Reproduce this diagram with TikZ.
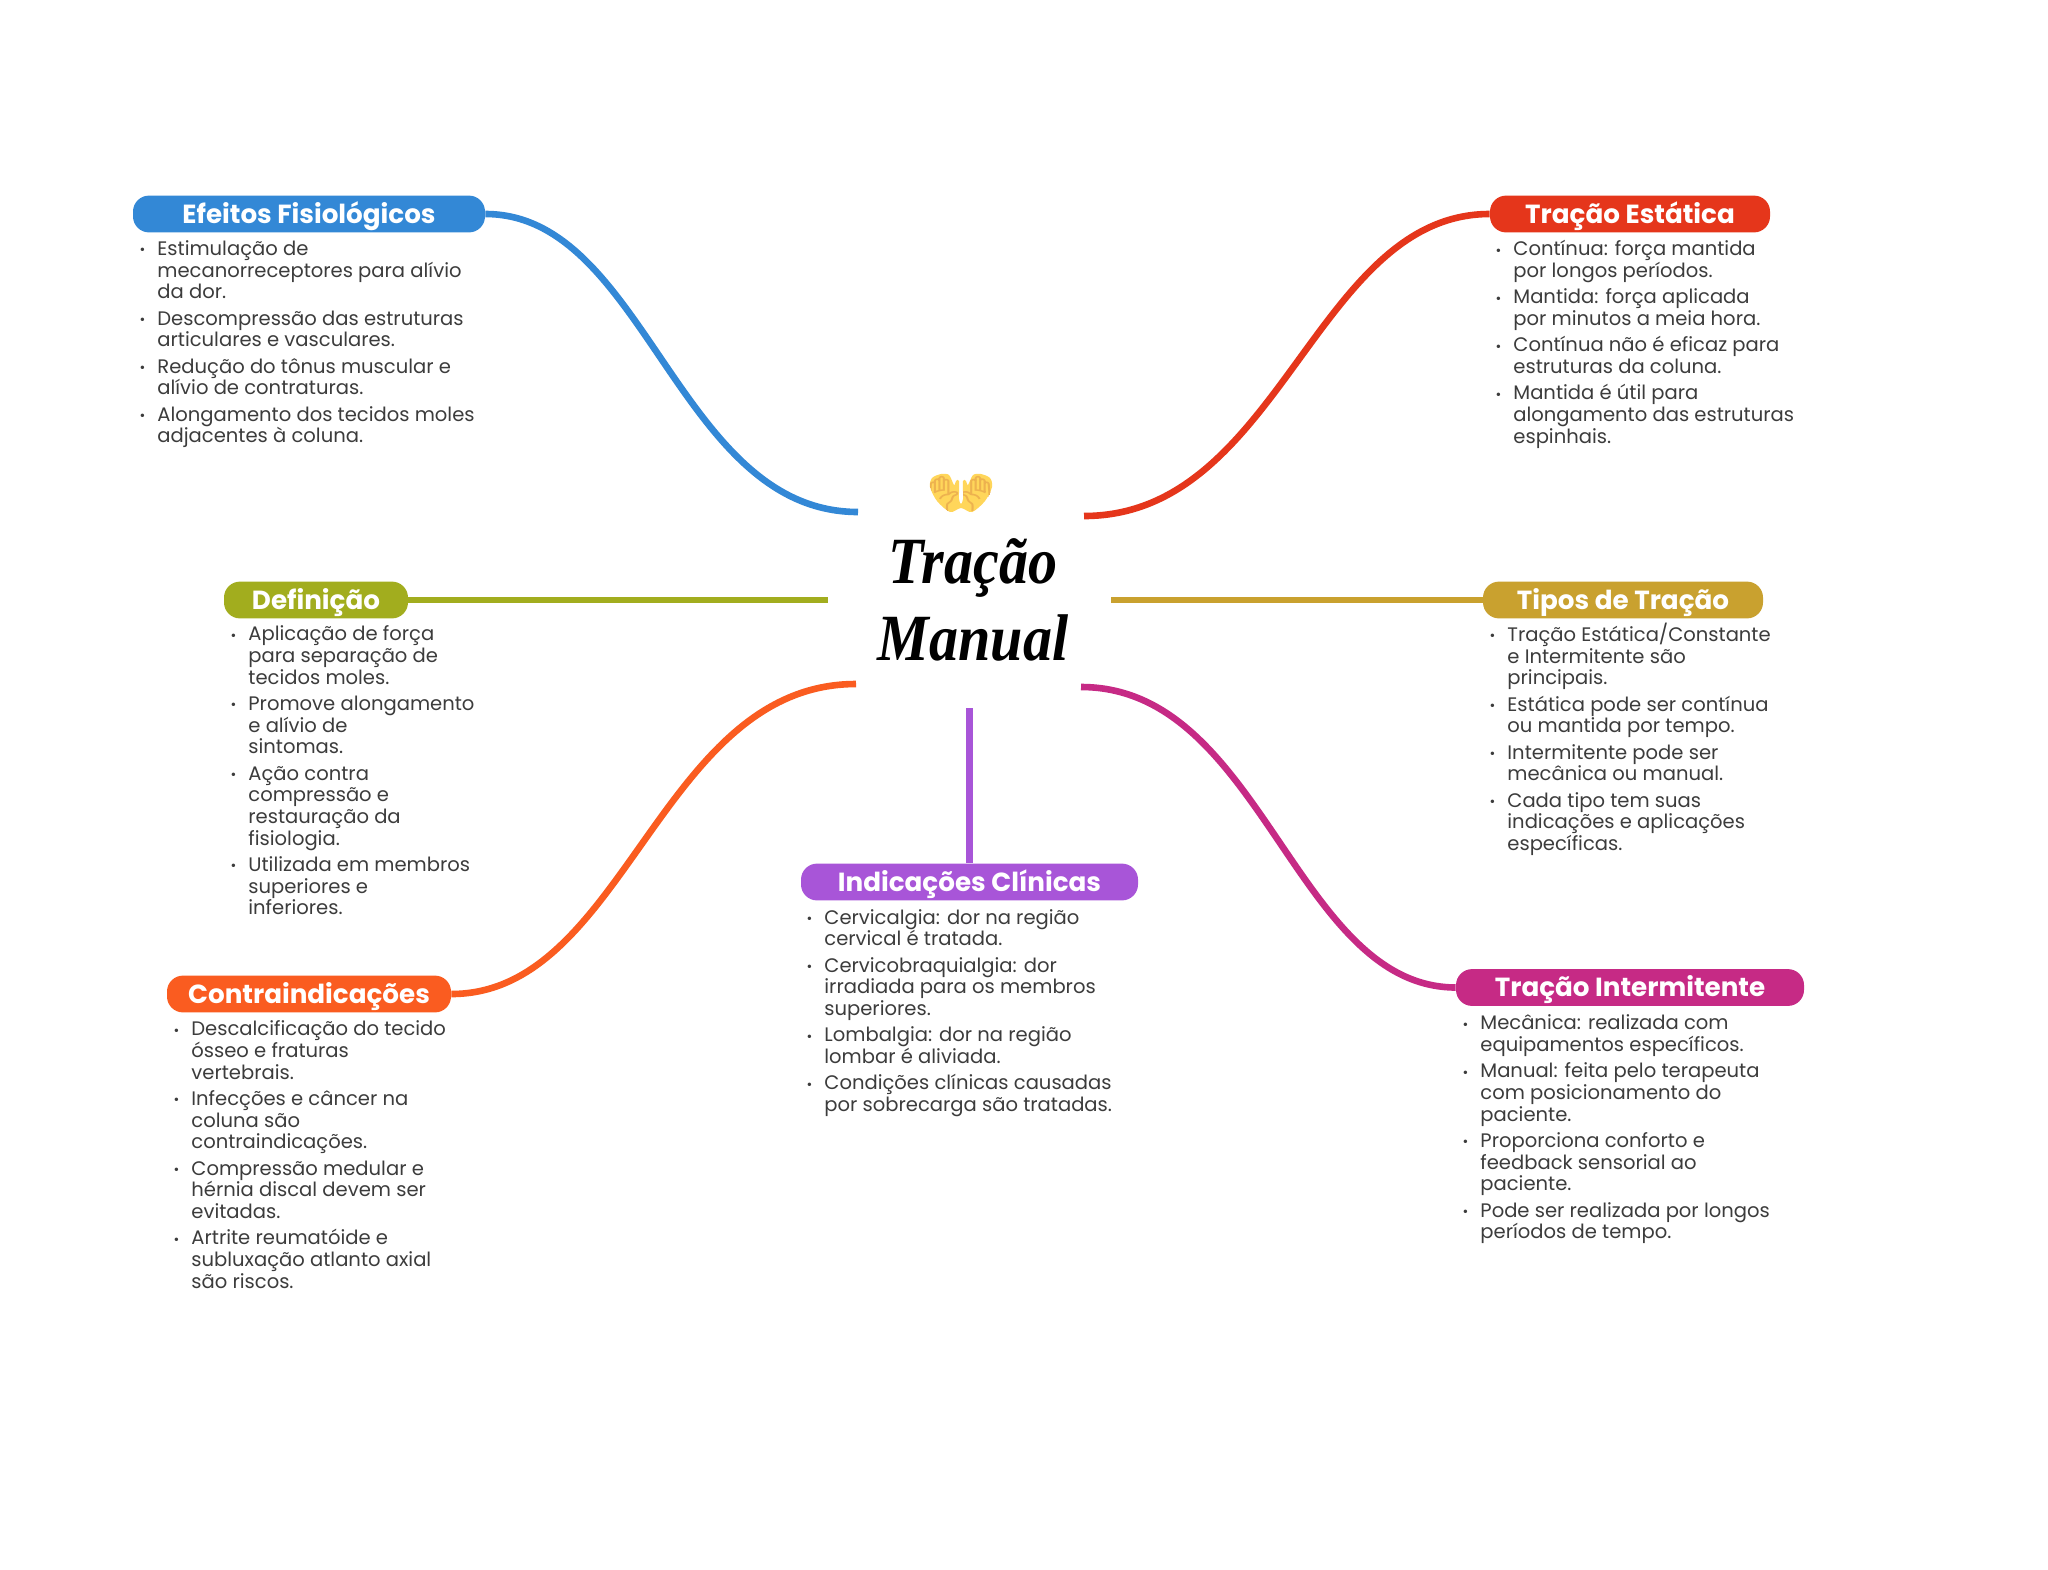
\documentclass[tikz,border=0pt]{standalone}
\usepackage{fontspec}
\setmainfont{Poppins}
\newfontfamily\titlefont[FakeStretch=0.88]{Liberation Serif}
\newfontfamily\emojifont{Noto Emoji}
\definecolor{azul}{HTML}{3388D6}
\definecolor{vermelho}{HTML}{E5361B}
\definecolor{verde}{HTML}{A2AD1E}
\definecolor{ouro}{HTML}{C9A12F}
\definecolor{laranja}{HTML}{FA5C20}
\definecolor{roxo}{HTML}{A855D8}
\definecolor{magenta}{HTML}{C62A85}
\definecolor{cinza}{HTML}{3C3C3C}
\definecolor{pele}{HTML}{FFD65A}
\definecolor{dedo}{HTML}{EDB24F}
\lineskiplimit=-20pt
\newcommand{\bul}{\strut\llap{\raisebox{0.3pt}{\scriptsize\textbullet}\hspace{6pt}}}
\newcommand{\maospath}{plot[smooth cycle] coordinates {(950,512) (937,501) (930,487) (932,478) (941,474) (949,475) (954,485) (956,481) (959,481) (959,499) (961,504) (963,499) (963,481) (966,481) (968,485) (973,475) (981,474) (990,478) (992,487) (985,501) (972,512) (961,508)}}
\tikzset{
  pill/.style={rounded corners=8pt, minimum height=18.4pt, inner sep=0pt, text height=9.6pt, text depth=0.6pt, text=white, font=\fontsize{13.1}{15}\selectfont\bfseries},
  itens/.style={anchor=north west, align=left, inner sep=0pt, text=cinza, font=\fontsize{9.78}{10.85}\selectfont},
  link/.style={line width=3.3pt}
}
\begin{document}
\begin{tikzpicture}[x=0.5pt,y=-0.5pt]
\useasboundingbox[fill=white] (0,0) rectangle (2048,1569);

\node[inner sep=0pt, align=center, font=\titlefont\bfseries\itshape\fontsize{33}{38.5}\selectfont] (centro) at (973,600) {Tração\\Manual};
\path[fill=pele] \maospath;
\begin{scope}
\clip \maospath;
\node[inner sep=0pt, text=dedo, font=\emojifont\fontsize{27}{30}\selectfont] (maos) at (960,490) {\scalebox{1}[0.8]{🙌}};
\end{scope}

\node[pill, fill=azul, minimum width=176pt] (efeitos) at (309,214) {Efeitos Fisiológicos};
\node[pill, fill=vermelho, minimum width=140pt] (estatica) at (1630,214) {Tração Estática};
\node[pill, fill=verde, minimum width=92pt] (definicao) at (316,600) {Definição};
\node[pill, fill=ouro, minimum width=140pt] (tipos) at (1623,600) {Tipos de Tração};
\node[pill, fill=laranja, minimum width=142pt] (contra) at (309,994) {Contraindicações};
\node[pill, fill=roxo, minimum width=168.5pt] (indicacoes) at (969.5,882) {Indicações Clínicas};
\node[pill, fill=magenta, minimum width=174pt] (intermitente) at (1630,987.5) {Tração Intermitente};

\coordinate (fimefeitos) at (858,512);
\coordinate (fimestatica) at (1084,516);
\coordinate (fimdefinicao) at (828,600);
\coordinate (fimtipos) at (1111,600);
\coordinate (fimcontra) at (856,684);
\coordinate (fimindicacoes) at (969.5,708);
\coordinate (fimintermitente) at (1081,687);

\path[draw,link,azul] (efeitos.east) .. controls (645,214) and (678,512) .. (fimefeitos);
\path[draw,link,vermelho] (estatica.west) .. controls (1315,214) and (1280,516) .. (fimestatica);
\path[draw,link,verde] (definicao.east) -- (fimdefinicao);
\path[draw,link,ouro] (tipos.west) -- (fimtipos);
\path[draw,link,laranja] (contra.east) .. controls (625,994) and (660,684) .. (fimcontra);
\path[draw,link,roxo] (indicacoes.north) -- (fimindicacoes);
\path[draw,link,magenta] (intermitente.west) .. controls (1295,987) and (1262,687) .. (fimintermitente);

\node[itens] (efeitoslista) at (157,240) {\bul Estimulação de\\mecanorreceptores para alívio\\da dor.\\[2.3pt]
\bul Descompressão das estruturas\\articulares e vasculares.\\[2.3pt]
\bul Redução do tônus muscular e\\alívio de contraturas.\\[2.3pt]
\bul Alongamento dos tecidos moles\\adjacentes à coluna.};
\node[itens] (estaticalista) at (1513,240) {\bul Contínua: força mantida\\por longos períodos.\\[2.3pt]
\bul Mantida: força aplicada\\por minutos a meia hora.\\[2.3pt]
\bul Contínua não é eficaz para\\estruturas da coluna.\\[2.3pt]
\bul Mantida é útil para\\alongamento das estruturas\\espinhais.};
\node[itens] (definicaolista) at (248,625) {\bul Aplicação de força\\para separação de\\tecidos moles.\\[2.3pt]
\bul Promove alongamento\\e alívio de\\sintomas.\\[2.3pt]
\bul Ação contra\\compressão e\\restauração da\\fisiologia.\\[2.3pt]
\bul Utilizada em membros\\superiores e\\inferiores.};
\node[itens] (tiposlista) at (1507,622.5) {\bul Tração Estática/Constante\\e Intermitente são\\principais.\\[2.3pt]
\bul Estática pode ser contínua\\ou mantida por tempo.\\[2.3pt]
\bul Intermitente pode ser\\mecânica ou manual.\\[2.3pt]
\bul Cada tipo tem suas\\indicações e aplicações\\específicas.};
\node[itens] (contralista) at (191,1020) {\bul Descalcificação do tecido\\ósseo e fraturas\\vertebrais.\\[2.3pt]
\bul Infecções e câncer na\\coluna são\\contraindicações.\\[2.3pt]
\bul Compressão medular e\\hérnia discal devem ser\\evitadas.\\[2.3pt]
\bul Artrite reumatóide e\\subluxação atlanto axial\\são riscos.};
\node[itens] (indicacoeslista) at (824,908.5) {\bul Cervicalgia: dor na região\\cervical é tratada.\\[2.3pt]
\bul Cervicobraquialgia: dor\\irradiada para os membros\\superiores.\\[2.3pt]
\bul Lombalgia: dor na região\\lombar é aliviada.\\[2.3pt]
\bul Condições clínicas causadas\\por sobrecarga são tratadas.};
\node[itens] (intermitentelista) at (1480,1014) {\bul Mecânica: realizada com\\equipamentos específicos.\\[2.3pt]
\bul Manual: feita pelo terapeuta\\com posicionamento do\\paciente.\\[2.3pt]
\bul Proporciona conforto e\\feedback sensorial ao\\paciente.\\[2.3pt]
\bul Pode ser realizada por longos\\períodos de tempo.};
\end{tikzpicture}
\end{document}
